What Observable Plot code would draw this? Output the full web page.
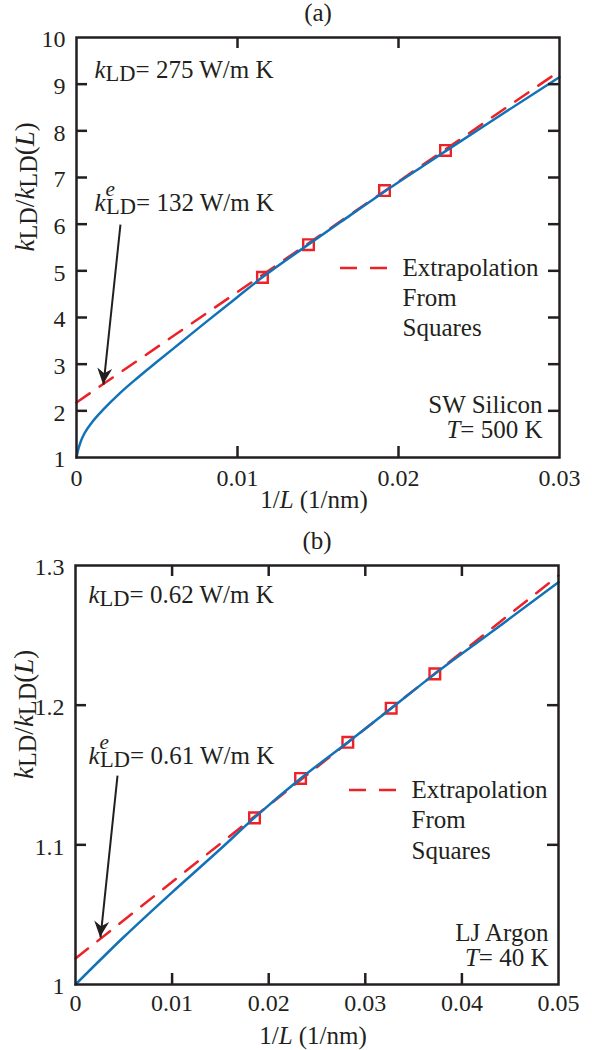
<!DOCTYPE html>
<html>
<head>
<meta charset="utf-8">
<script src="https://cdn.jsdelivr.net/npm/d3@7"></script>
<script src="https://cdn.jsdelivr.net/npm/@observablehq/plot@0.6"></script>
<style>
  html, body { margin: 0; padding: 0; background: #fff; }
  #chart svg { display: block; }
</style>
</head>
<body>
<div id="chart"></div>
<script>
// ---------- Panel (a): SW Silicon, T = 500 K ----------
const aCurveX = [0, 0.0001, 0.00025, 0.0005, 0.001, 0.0017, 0.0027, 0.0038, 0.005, 0.0065, 0.008, 0.01, 0.0115, 0.0143, 0.0165, 0.0191, 0.0215, 0.0229, 0.026, 0.03];
const aCurveY = [1.0, 1.16, 1.33, 1.52, 1.77, 2.04, 2.38, 2.71, 3.05, 3.47, 3.89, 4.44, 4.85, 5.54, 6.07, 6.69, 7.24, 7.56, 8.26, 9.15];
const aSquareX = [0.01155, 0.01441, 0.01913, 0.02292];
const aSquareY = [4.86, 5.56, 6.72, 7.58];
const aFitX = [0, 0.03];
const aFitY = [2.18, 9.28];
const aArrowFrom = [0.00273, 5.99];
const aArrowTo = [0.00168, 2.56];
const aXTickLabels = [0, 0.01, 0.02, 0.03];
const aXTickMarks = [0.01, 0.02];
const aYTickLabels = [1, 2, 3, 4, 5, 6, 7, 8, 9, 10];
const aYTickMarks = [2, 3, 4, 5, 6, 7, 8, 9];

// ---------- Panel (b): LJ Argon, T = 40 K ----------
const bCurveX = [0, 0.005, 0.01, 0.015, 0.0185, 0.0233, 0.0282, 0.0327, 0.0372, 0.043, 0.05];
const bCurveY = [1.0, 1.034, 1.066, 1.097, 1.1193, 1.1475, 1.1734, 1.1978, 1.2224, 1.252, 1.288];
const bSquareX = [0.01853, 0.0233, 0.02819, 0.03268, 0.0372];
const bSquareY = [1.1193, 1.1475, 1.1734, 1.1978, 1.2224];
const bFitX = [0, 0.05];
const bFitY = [1.0186, 1.2928];
const bArrowFrom = [0.00435, 1.1496];
const bArrowTo = [0.00259, 1.0336];
const bXTickLabels = [0, 0.01, 0.02, 0.03, 0.04, 0.05];
const bXTickMarks = [0.01, 0.02, 0.03, 0.04];
const bYTickLabels = [1, 1.1, 1.2, 1.3];
const bYTickMarks = [1.1, 1.2];

// ---------- text ----------
const legendLines = ["Extrapolation", "From", "Squares"];

const ink = "#231f20", blue = "#1172b8", red = "#ec2227";
const FONT = "'Liberation Serif', 'Times New Roman', Times, serif";
const FS = 25, TFS = 24, YFS = 27;

function rich(svg, key, parts) {
  d3.select(svg).selectAll("text").filter(function () { return this.textContent === key; }).each(function () {
    const t = d3.select(this);
    t.text(null);
    for (const p of parts) {
      const s = t.append("tspan").text(p.t);
      if (p.i) s.attr("font-style", "italic");
      if (p.fs) s.attr("font-size", p.fs);
      if (p.dx != null) s.attr("dx", p.dx);
      if (p.dy != null) s.attr("dy", p.dy);
    }
  });
}

const K_LD = [{t: "k", i: 1}, {t: "LD", fs: "0.9em", dy: 3.5}];
const K_LD_E = [{t: "k", i: 1}, {t: "e", i: 1, fs: "0.85em", dy: -15}, {t: "LD", fs: "0.9em", dx: -9, dy: 18.5}];

function makePanel(p) {
  const W = 592, H = 525;
  const innerW = W - p.ml - p.mr, innerH = H - p.mt - p.mb;
  const curve = p.curveX.map((x, i) => ({x, y: p.curveY[i]}));
  const fit = p.fitX.map((x, i) => ({x, y: p.fitY[i]}));
  const squares = p.sqX.map((x, i) => ({x, y: p.sqY[i]}));
  const arrow = [{x1: p.arrowFrom[0], y1: p.arrowFrom[1], x2: p.arrowTo[0], y2: p.arrowTo[1]}];
  const tk = {stroke: ink, strokeWidth: 2.5};
  const txt = (s, o) => Plot.text([s], {fill: ink, fontSize: FS, ...o});

  const marks = [
    Plot.line(fit, {x: "x", y: "y", stroke: red, strokeWidth: 2.5, strokeDasharray: "16,12"}),
    Plot.dot(squares, {x: "x", y: "y", symbol: "square", r: 6, stroke: red, strokeWidth: 2.4, fill: "none"}),
    Plot.line(curve, {x: "x", y: "y", stroke: blue, strokeWidth: 2.5, curve: "monotone-x"}),
    Plot.link(arrow, {x1: "x1", y1: "y1", x2: "x2", y2: "y2", stroke: ink, strokeWidth: 2}),
    Plot.tickX(p.xTicks, {x: d => d, insetTop: innerH - 11, ...tk}),
    Plot.tickX(p.xTicks, {x: d => d, insetBottom: innerH - 11, ...tk}),
    Plot.tickY(p.yTicks, {y: d => d, insetRight: innerW - 11, ...tk}),
    Plot.tickY(p.yTicks, {y: d => d, insetLeft: innerW - 11, ...tk}),
    Plot.frame({stroke: ink, strokeWidth: 2.5}),
    Plot.axisX(p.xLabels, {anchor: "bottom", tickSize: 0, tickPadding: p.xPad, tickFormat: d => String(d), label: null, fontSize: TFS, fill: ink}),
    Plot.axisY(p.yLabels, {anchor: "left", tickSize: 0, tickPadding: 11, tickFormat: d => String(d), label: null, dy: 2, fontSize: TFS, fill: ink}),
    txt(p.title, {frameAnchor: "top", dy: -17, lineAnchor: "bottom"}),
    txt("xlabel", {frameAnchor: "bottom", dx: -4, dy: p.xLabelDy, lineAnchor: "bottom"}),
    txt("ylabel", {frameAnchor: "left", dx: -43, dy: 4, rotate: -90, lineAnchor: "bottom", fontSize: YFS}),
    txt("kld", {frameAnchor: "top-left", textAnchor: "start", lineAnchor: "bottom", dx: p.kx, dy: p.k1y}),
    txt("klde", {frameAnchor: "top-left", textAnchor: "start", lineAnchor: "bottom", dx: p.kx, dy: p.k2y}),
    ...legendLines.map((s, i) => txt(s, {frameAnchor: "top-left", textAnchor: "start", lineAnchor: "bottom", dx: p.legX, dy: p.legY + i * p.legGap})),
    txt(p.material, {frameAnchor: "top-right", textAnchor: "end", lineAnchor: "bottom", dx: -p.matDx, dy: p.matY}),
    txt("temp", {frameAnchor: "top-right", textAnchor: "end", lineAnchor: "bottom", dx: -p.matDx, dy: p.matY + 25})
  ];

  const svg = Plot.plot({
    width: W, height: H,
    marginTop: p.mt, marginRight: p.mr, marginBottom: p.mb, marginLeft: p.ml,
    x: {domain: p.xDomain},
    y: {domain: p.yDomain},
    style: {fontFamily: FONT, fontSize: FS + "px", color: ink, background: "#fff", overflow: "visible"},
    marks
  });

  rich(svg, "xlabel", [{t: "1/"}, {t: "L", i: 1}, {t: " (1/nm)"}]);
  rich(svg, "ylabel", [...K_LD, {t: "/", dy: -3.5}, ...K_LD, {t: "(", dy: -3.5}, {t: "L", i: 1}, {t: ")"}]);
  rich(svg, "kld", [...K_LD, {t: "= " + p.kValue + " W/m K", dy: -3.5}]);
  rich(svg, "klde", [...K_LD_E, {t: "= " + p.keValue + " W/m K", dy: -3.5}]);
  rich(svg, "temp", [{t: "T", i: 1}, {t: "= " + p.temp + " K"}]);

  // filled arrowhead at the pointer tip, oriented along the link using Plot's scales
  const root = d3.select(svg);
  const sx = svg.scale("x"), sy = svg.scale("y");
  const tx = sx.apply(p.arrowTo[0]), ty = sy.apply(p.arrowTo[1]);
  const fx = sx.apply(p.arrowFrom[0]), fy = sy.apply(p.arrowFrom[1]);
  const ang = Math.atan2(ty - fy, tx - fx) * 180 / Math.PI;
  root.append("path")
    .attr("d", "M0,0L-16,-7.5L-11,0L-16,7.5Z")
    .attr("fill", ink)
    .attr("transform", `translate(${tx},${ty}) rotate(${ang})`);

  // legend swatch (dashed red) left of "Extrapolation"
  root.append("line")
    .attr("x1", p.ml + p.legX - 62).attr("x2", p.ml + p.legX - 15)
    .attr("y1", p.mt + p.legY - 7).attr("y2", p.mt + p.legY - 7)
    .attr("stroke", red).attr("stroke-width", 2.5).attr("stroke-dasharray", "17,13");

  return svg;
}

const chart = document.getElementById("chart");
chart.append(makePanel({
  title: "(a)", material: "SW Silicon", temp: "500", kValue: "275", keValue: "132",
  mt: 37, mb: 68, ml: 76, mr: 33, xPad: 11, xLabelDy: 50,
  xDomain: [0, 0.03], yDomain: [1, 10],
  curveX: aCurveX, curveY: aCurveY, sqX: aSquareX, sqY: aSquareY, fitX: aFitX, fitY: aFitY,
  arrowFrom: aArrowFrom, arrowTo: aArrowTo,
  xTicks: aXTickMarks, yTicks: aYTickMarks, xLabels: aXTickLabels, yLabels: aYTickLabels,
  kx: 18, k1y: 40, k2y: 173, legX: 326, legY: 238, legGap: 30, matDx: 17, matY: 375
}));
chart.append(makePanel({
  title: "(b)", material: "LJ Argon", temp: "40", kValue: "0.62", keValue: "0.61",
  mt: 40, mb: 66, ml: 75, mr: 34, xPad: 9, xLabelDy: 59,
  xDomain: [0, 0.05], yDomain: [1, 1.3],
  curveX: bCurveX, curveY: bCurveY, sqX: bSquareX, sqY: bSquareY, fitX: bFitX, fitY: bFitY,
  arrowFrom: bArrowFrom, arrowTo: bArrowTo,
  xTicks: bXTickMarks, yTicks: bYTickMarks, xLabels: bXTickLabels, yLabels: bYTickLabels,
  kx: 13, k1y: 37, k2y: 198, legX: 336, legY: 232, legGap: 30.5, matDx: 10, matY: 375
}));
</script>
</body>
</html>
